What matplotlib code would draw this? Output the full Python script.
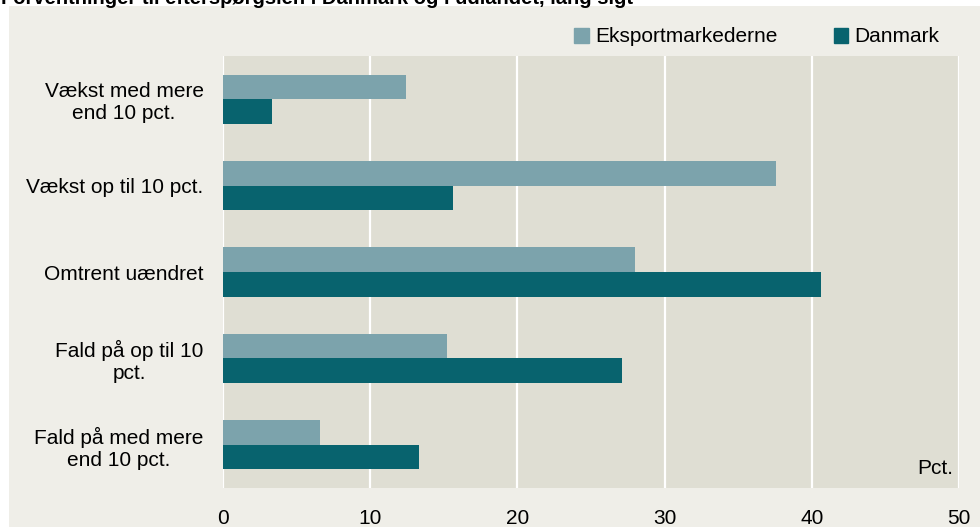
import numpy as np
import matplotlib.pyplot as plt
from matplotlib.patches import Patch, Rectangle

plt.rcParams['font.family'] = ['Liberation Sans', 'DejaVu Sans']

categories = ['Vækst med mere\nend 10 pct.', 'Vækst op til 10 pct.', 'Omtrent uændret',
              'Fald på op til 10\npct.', 'Fald på med mere\nend 10 pct.']
eksport = [12.4, 37.6, 28.0, 15.2, 6.6]
danmark = [3.3, 15.6, 40.6, 27.1, 13.3]
series_names = ['Eksportmarkederne', 'Danmark']
xticks = [0, 10, 20, 30, 40, 50]

c_eksport = '#7ca3ac'
c_danmark = '#08636e'
panel_bg = '#efeee8'
axes_bg = '#dfded3'
fs = 15

fig = plt.figure(figsize=(9.8, 5.27), dpi=100)
fig.patch.set_facecolor('white')
fig.patches.append(Rectangle((9 / 980, 0), 1, 1 - 6 / 527, transform=fig.transFigure,
                             facecolor=panel_bg, edgecolor='none', zorder=-1))
# title is clipped at the top edge, as in the original
fig.text(1 / 980, 1 - 4 / 527, 'Forventninger til efterspørgslen i Danmark og i udlandet, lang sigt',
         fontsize=14.5, fontweight='bold', va='baseline', ha='left')

ax = fig.add_axes([223 / 980, 1 - 488 / 527, (959 - 223) / 980, (488 - 56) / 527])
ax.set_facecolor(axes_bg)

y = np.arange(len(categories))
h = 0.285
ax.barh(y - h / 2, eksport, height=h, color=c_eksport, zorder=3)
ax.barh(y + h / 2, danmark, height=h, color=c_danmark, zorder=3)

ax.set_xlim(0, 50)
ax.set_ylim(len(categories) - 0.5, -0.5)
ax.set_xticks(xticks)
ax.set_xticklabels([str(t) for t in xticks], fontsize=fs)
ax.set_yticks(y)
ax.set_yticklabels(categories, fontsize=fs, multialignment='center')
ax.tick_params(length=0)
ax.tick_params(axis='y', pad=14)
ax.tick_params(axis='x', pad=15)
for s in ax.spines.values():
    s.set_visible(False)
ax.xaxis.grid(True, color='white', linewidth=1.6, zorder=1)
ax.set_axisbelow(True)

ax.text(0.992, 0.022, 'Pct.', transform=ax.transAxes, ha='right', va='bottom', fontsize=fs)

handles = [Patch(color=c_eksport), Patch(color=c_danmark)]
fig.legend(handles, series_names, loc='center right', bbox_to_anchor=(948 / 980, 1 - 37 / 527),
           ncol=2, frameon=False, fontsize=fs, handlelength=0.7, handleheight=0.7,
           handletextpad=0.3, columnspacing=2.7, borderaxespad=0)

fig.savefig('out.png', dpi=100, facecolor=fig.get_facecolor())
